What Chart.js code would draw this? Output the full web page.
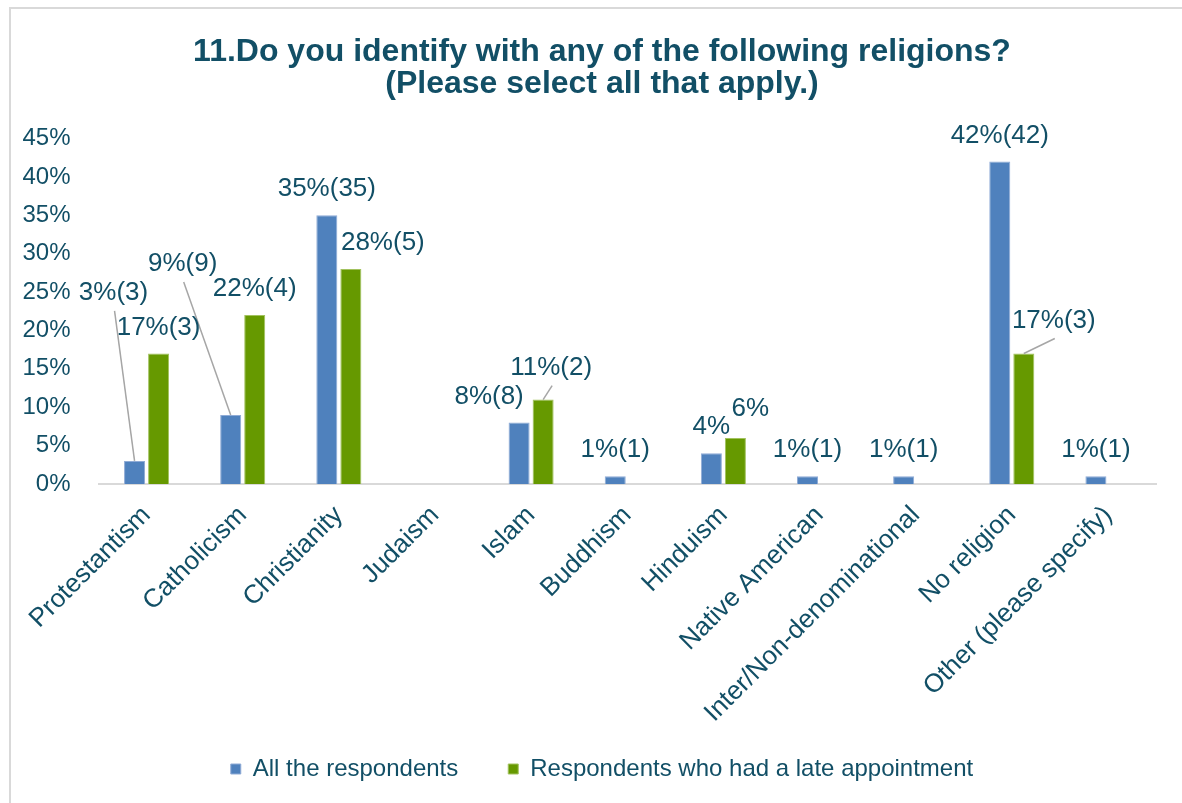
<!DOCTYPE html>
<html>
<head>
<meta charset="utf-8">
<title>Religion</title>
<script src="https://cdn.jsdelivr.net/npm/chart.js@4"></script>
<style>
  html, body { margin: 0; padding: 0; background: #fff; }
  #wrap { position: relative; width: 1182px; height: 803px; }
  #frame { position: absolute; left: 9px; top: 7px; right: 0; bottom: 0;
           border-left: 2px solid #D9D9D9; border-top: 2px solid #D9D9D9; pointer-events: none; }
</style>
</head>
<body>
<div id="wrap">
  <canvas id="chart-religion"></canvas>
  <div id="frame"></div>
</div>
<script>
const categories = ['Protestantism', 'Catholicism', 'Christianity', 'Judaism', 'Islam', 'Buddhism',
    'Hinduism', 'Native American', 'Inter/Non-denominational', 'No religion', 'Other (please specify)'];
const allPct = [3, 9, 35, 0, 8, 1, 4, 1, 1, 42, 1];
const allCount = [3, 9, 35, null, 8, 1, null, 1, 1, 42, 1];
const latePct = [17, 22, 28, 0, 11, 0, 6, 0, 0, 17, 0];
const lateCount = [3, 4, 5, null, 2, null, null, null, null, 3, null];
const yTicks = [0, 5, 10, 15, 20, 25, 30, 35, 40, 45];

const TEXT = '#124F66';
const FONT = "'Liberation Sans', Arial, sans-serif";
const PAD_LEFT = 48;

// label nudges for the crowded ones, key = dataset:index
const nudges = {
    '0:0': { dx: -21, dy: -142, leader: true },
    '0:1': { dx: -48, dy: -125, leader: true },
    '1:2': { dx: 32, dy: 0 },
    '0:4': { dx: -30, dy: 0 },
    '1:4': { dx: 8, dy: -6, leader: true },
    '1:6': { dx: 15, dy: -3 },
    '1:9': { dx: 30, dy: -7, leader: true },
};

const valueLabels = {
    id: 'valueLabels',
    afterDatasetsDraw(chart) {
        const ctx = chart.ctx;
        const counts = [allCount, lateCount];
        ctx.save();
        ctx.font = '26px ' + FONT;
        ctx.textAlign = 'center';
        ctx.textBaseline = 'middle';
        chart.data.datasets.forEach((ds, i) => {
            chart.getDatasetMeta(i).data.forEach((bar, j) => {
                const v = ds.data[j];
                if (!v) return;
                const c = counts[i][j];
                const text = v + '%' + (c != null ? '(' + c + ')' : '');
                const n = nudges[i + ':' + j] || { dx: 0, dy: 0 };
                const x = bar.x + n.dx;
                const y = bar.y - 26 + n.dy;
                if (n.leader) {
                    ctx.strokeStyle = '#A6A6A6';
                    ctx.lineWidth = 1.5;
                    ctx.beginPath();
                    ctx.moveTo(x + 1, y + 18);
                    ctx.lineTo(bar.x, bar.y);
                    ctx.stroke();
                }
                ctx.fillStyle = TEXT;
                ctx.fillText(text, x, y);
            });
        });
        ctx.restore();
    }
};

new Chart(document.getElementById('chart-religion').getContext('2d'), {
    type: 'bar',
    data: {
        labels: categories,
        datasets: [
            { label: 'All the respondents', data: allPct, backgroundColor: '#4F81BD', borderColor: '#8FABD6', borderWidth: 1 },
            { label: 'Respondents who had a late appointment', data: latePct, backgroundColor: '#669900', borderColor: '#A2C25E', borderWidth: 1 }
        ]
    },
    options: {
        responsive: true,
        maintainAspectRatio: false,
        animation: false,
        categoryPercentage: 0.5,
        barPercentage: 0.875,
        layout: { padding: { left: PAD_LEFT, right: 26, top: 0, bottom: 12 } },
        plugins: {
            title: {
                display: true,
                text: ['11.Do you identify with any of the following religions?', '(Please select all that apply.)'],
                color: TEXT,
                font: { family: FONT, size: 32, weight: 'bold', lineHeight: 1.0 },
                padding: { top: 36, bottom: 38.5 }
            },
            legend: {
                position: 'bottom',
                labels: {
                    color: TEXT, font: { family: FONT, size: 24 }, boxWidth: 10, boxHeight: 10, padding: 10,
                    // pad the first entry so the two items sit as far apart as in the original
                    generateLabels: chart => Chart.defaults.plugins.legend.labels.generateLabels(chart)
                        .map((item, i) => Object.assign(item, { text: i === 0 ? item.text + '\u00A0'.repeat(6) : item.text }))
                }
            },
            tooltip: { enabled: false }
        },
        scales: {
            x: {
                grid: { display: false, drawTicks: false },
                border: { display: true, color: '#D9D9D9', width: 2 },
                ticks: { color: TEXT, font: { family: FONT, size: 26 }, minRotation: 45, maxRotation: 45, padding: 16 },
                afterFit: scale => { scale.height = 263; }
            },
            y: {
                min: 0,
                max: 45,
                grid: { display: false, drawTicks: false },
                border: { display: false },
                afterBuildTicks: scale => { scale.ticks = yTicks.map(v => ({ value: v })); },
                ticks: { color: TEXT, font: { family: FONT, size: 24 }, padding: 28, callback: v => v + '%' },
                afterFit: scale => {
                    scale.width = 98.5 - PAD_LEFT;
                    // labels reach past the narrow axis box, so don't clip them to it
                    scale._computeLabelArea = () => null;
                }
            }
        }
    },
    plugins: [valueLabels]
});
</script>
</body>
</html>
